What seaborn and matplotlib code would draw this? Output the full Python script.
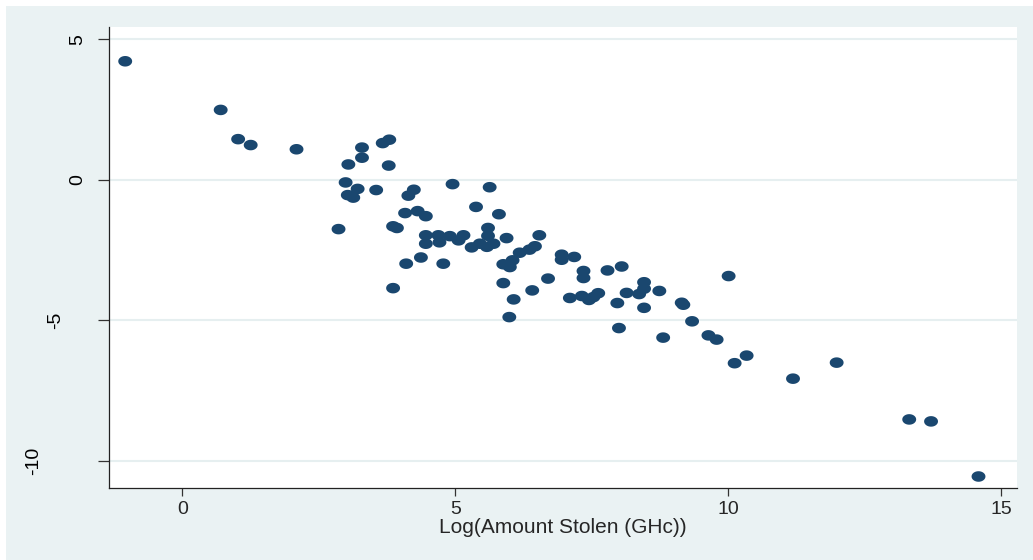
import numpy as np
import pandas as pd
import matplotlib
matplotlib.use("Agg")
import matplotlib.pyplot as plt
import matplotlib.transforms as mtransforms
from matplotlib.path import Path
from matplotlib.patches import Rectangle
import seaborn as sns

# ---- data ----
log_amount = [
    -1.05, 0.70, 1.02, 1.25, 2.09, 3.04, 3.29, 3.29, 3.67, 3.79,
    3.78, 2.99, 3.21, 3.55, 3.03, 3.13, 4.24, 4.14, 4.95, 5.63,
    2.86, 4.08, 4.31, 4.46, 5.38, 5.80, 3.86, 3.93, 4.46, 4.69,
    4.90, 5.15, 4.46, 4.71, 5.06, 5.30, 5.45, 5.58, 5.70, 5.60,
    5.60, 5.94, 6.54, 4.10, 4.37, 4.78, 3.86, 5.88, 6.00, 6.05,
    6.18, 6.36, 6.46, 5.88, 6.41, 6.07, 5.99, 6.95, 6.95, 7.18,
    7.35, 7.35, 7.79, 8.05, 6.70, 7.10, 7.32, 7.45, 7.53, 7.62,
    7.97, 8.14, 8.37, 8.46, 8.46, 8.74, 8.46, 8.00, 9.15, 9.18,
    10.01, 9.34, 8.81, 9.64, 9.79, 10.34, 10.12, 11.19, 11.99, 13.32,
    13.72, 14.59,
]
outcome = [
    4.21, 2.48, 1.44, 1.23, 1.08, 0.54, 1.14, 0.78, 1.30, 1.42,
    0.50, -0.10, -0.33, -0.37, -0.55, -0.64, -0.36, -0.57, -0.16, -0.27,
    -1.76, -1.19, -1.12, -1.30, -0.97, -1.23, -1.66, -1.72, -1.98, -1.98,
    -2.01, -1.98, -2.28, -2.23, -2.16, -2.41, -2.28, -2.39, -2.28, -1.72,
    -2.00, -2.08, -1.98, -2.99, -2.77, -2.99, -3.86, -3.01, -3.11, -2.87,
    -2.60, -2.49, -2.37, -3.68, -3.94, -4.26, -4.89, -2.67, -2.85, -2.75,
    -3.25, -3.50, -3.23, -3.09, -3.52, -4.21, -4.14, -4.28, -4.18, -4.04,
    -4.39, -4.03, -4.07, -3.65, -3.88, -3.96, -4.56, -5.28, -4.38, -4.45,
    -3.43, -5.04, -5.62, -5.54, -5.69, -6.26, -6.53, -7.08, -6.51, -8.53,
    -8.60, -10.56,
]
x_ticks = [0, 5, 10, 15]
y_ticks = [5, 0, -5, -10]
x_label = "Log(Amount Stolen (GHc))"

df = pd.DataFrame({"x": log_amount, "y": outcome})

# ---- style ----
sns.set_style("white")
plt.rcParams["font.family"] = ["Liberation Sans", "DejaVu Sans"]

navy = "#1A476F"
bg = "#EAF2F3"

fig = plt.figure(figsize=(10.33, 5.6), dpi=100, facecolor=bg)
# thin white strip at top and left like the reference
fig.patches.append(Rectangle((0, 0), 6 / 1033, 1, transform=fig.transFigure,
                             facecolor="white", edgecolor="none", zorder=-10))
fig.patches.append(Rectangle((0, 1 - 6 / 560), 1, 6 / 560, transform=fig.transFigure,
                             facecolor="white", edgecolor="none", zorder=-10))

ax = fig.add_axes([109 / 1033, (560 - 488.3) / 560,
                   (1016.7 - 109) / 1033, (488.3 - 26.7) / 560])
ax.set_facecolor("white")

# elliptical marker (the reference image is horizontally stretched)
t = np.linspace(0, 2 * np.pi, 60)
ell = Path(np.column_stack([np.cos(t), 0.76 * np.sin(t)]), closed=True)

sns.scatterplot(data=df, x="x", y="y", ax=ax, marker=ell, s=100,
                color=navy, edgecolor="none", linewidth=0, zorder=3)

ax.set_xlim(-1.347, 15.29)
ax.set_ylim(-10.98, 5.44)

for v in y_ticks:
    ax.axhline(v, color="#E6EFF0", lw=1.5, zorder=1)

ax.set_xticks(x_ticks)
ax.set_xticklabels([str(v) for v in x_ticks], fontsize=14)
ax.set_yticks(y_ticks)
ax.set_yticklabels([])
ax.tick_params(axis="x", length=5.4, width=0.9, color="#333333", pad=4, direction="out",
               bottom=True)
ax.tick_params(axis="y", length=7.9, width=0.9, color="#333333", pad=4, direction="out",
               left=True)

# y tick labels, rotated like the reference
trans = mtransforms.blended_transform_factory(ax.transAxes, ax.transData)
axw_px = 1016.7 - 109
for v in y_ticks:
    lab = f"{v}"
    off_px = 31.5 + 22 * (len(lab) - 1)
    ax.text(-off_px / axw_px, v, lab, transform=trans, rotation=90,
            ha="center", va="center", fontsize=14, color="black", clip_on=False)

ax.set_xlabel(x_label, fontsize=15, labelpad=0)
ax.set_ylabel("")

for s in ["top", "right"]:
    ax.spines[s].set_visible(False)
for s in ["left", "bottom"]:
    ax.spines[s].set_color("#222222")
    ax.spines[s].set_linewidth(0.9)

fig.savefig("out.png", dpi=100, facecolor=bg)
